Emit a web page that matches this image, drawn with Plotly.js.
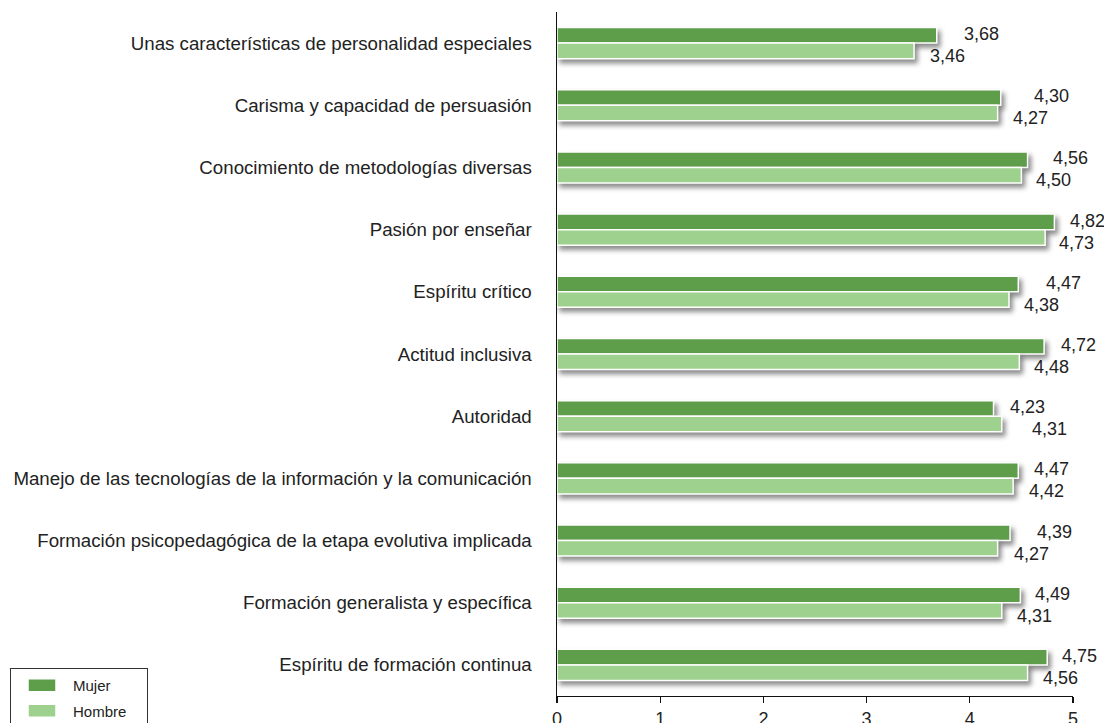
<!DOCTYPE html>
<html>
<head>
<meta charset="utf-8">
<script src="https://cdn.plot.ly/plotly-3.0.1.min.js"></script>
<style>
  html, body { margin: 0; padding: 0; background: #fff; }
  #chart { width: 1104px; height: 723px; }
  .barlayer .trace { filter: drop-shadow(3px 4px 2.5px rgba(0,0,0,0.45)); }
</style>
</head>
<body>
<div id="chart"></div>
<script>
const categories = [
  "Unas características de personalidad especiales",
  "Carisma y capacidad de persuasión",
  "Conocimiento de metodologías diversas",
  "Pasión por enseñar",
  "Espíritu crítico",
  "Actitud inclusiva",
  "Autoridad",
  "Manejo de las tecnologías de la información y la comunicación",
  "Formación psicopedagógica de la etapa evolutiva implicada",
  "Formación generalista y específica",
  "Espíritu de formación continua"
];
const mujer  = [3.68, 4.30, 4.56, 4.82, 4.47, 4.72, 4.23, 4.47, 4.39, 4.49, 4.75];
const hombre = [3.46, 4.27, 4.50, 4.73, 4.38, 4.48, 4.31, 4.42, 4.27, 4.31, 4.56];
const xTicks = [0, 1, 2, 3, 4, 5];

// label styling (pixel offsets from bar ends)
const mujerLabelShift  = [27, 33, 25, 16, 28, 17, 16, 16, 27, 15, 15];
const hombreLabelShift = [16, 15, 15, 14, 15, 15, 30, 16, 16, 15, 15];

const colMujer = '#5e9e4a';
const colHombre = '#9ed18d';
const textCol = '#222222';
const fontFam = '"Liberation Sans", Arial, Helvetica, sans-serif';

const fmt = v => v.toFixed(2).replace('.', ',');

const traces = [
  {
    type: 'bar', orientation: 'h', name: 'Mujer', legendgroup: 'm',
    y: categories, x: mujer,
    marker: { color: colMujer, line: { color: '#ffffff', width: 1.5 } },
    hoverinfo: 'x+y'
  },
  {
    type: 'bar', orientation: 'h', name: 'Hombre', legendgroup: 'h',
    y: categories, x: hombre,
    marker: { color: colHombre, line: { color: '#ffffff', width: 1.5 } },
    hoverinfo: 'x+y'
  }
];

const annotations = [];
categories.forEach((c, i) => {
  annotations.push({
    x: mujer[i], y: c, xref: 'x', yref: 'y', text: fmt(mujer[i]),
    showarrow: false, xanchor: 'left', yanchor: 'middle',
    xshift: mujerLabelShift[i] - 2, yshift: 9,
    font: { family: fontFam, size: 18, color: textCol }
  });
  annotations.push({
    x: hombre[i], y: c, xref: 'x', yref: 'y', text: fmt(hombre[i]),
    showarrow: false, xanchor: 'left', yanchor: 'middle',
    xshift: hombreLabelShift[i] - 2, yshift: -13,
    font: { family: fontFam, size: 18, color: textCol }
  });
});

const layout = {
  width: 1104, height: 723,
  margin: { l: 557, r: 31, t: 12, b: 27, pad: 0 },
  paper_bgcolor: '#ffffff', plot_bgcolor: '#ffffff',
  font: { family: fontFam, size: 18, color: textCol },
  barmode: 'group', bargap: 0.5, bargroupgap: 0,
  separators: ',.',
  xaxis: {
    range: [0, 5], tickvals: xTicks, ticktext: xTicks.map(String),
    showgrid: false, zeroline: false,
    showline: true, linecolor: '#111111', linewidth: 1.2,
    ticks: 'outside', ticklen: 6, tickcolor: '#111111', tickwidth: 1.2,
    tickfont: { family: fontFam, size: 18, color: textCol },
    fixedrange: true
  },
  yaxis: {
    type: 'category', autorange: 'reversed',
    showgrid: false, zeroline: false,
    showline: true, linecolor: '#111111', linewidth: 1.5,
    ticks: '', ticklabelstandoff: 20,
    tickfont: { family: fontFam, size: 18.7, color: textCol },
    fixedrange: true
  },
  showlegend: true,
  legend: {
    xref: 'container', yref: 'container',
    x: 10 / 1104, y: 1 - 668 / 723, xanchor: 'left', yanchor: 'top',
    bordercolor: '#333333', borderwidth: 1, bgcolor: '#ffffff',
    font: { family: fontFam, size: 15, color: textCol },
    traceorder: 'grouped', tracegroupgap: 3, itemwidth: 52
  },
  annotations: annotations
};

Plotly.newPlot('chart', traces, layout, { displayModeBar: false, staticPlot: true }).then(() => {
  document.querySelectorAll('.legend .legendpoints path').forEach(p => {
    p.setAttribute('d', 'M-14,-6.5H14V6.5H-14Z');
  });
  const bg = document.querySelector('.legend rect.bg');
  if (bg) bg.setAttribute('width', '137');
});
</script>
</body>
</html>
